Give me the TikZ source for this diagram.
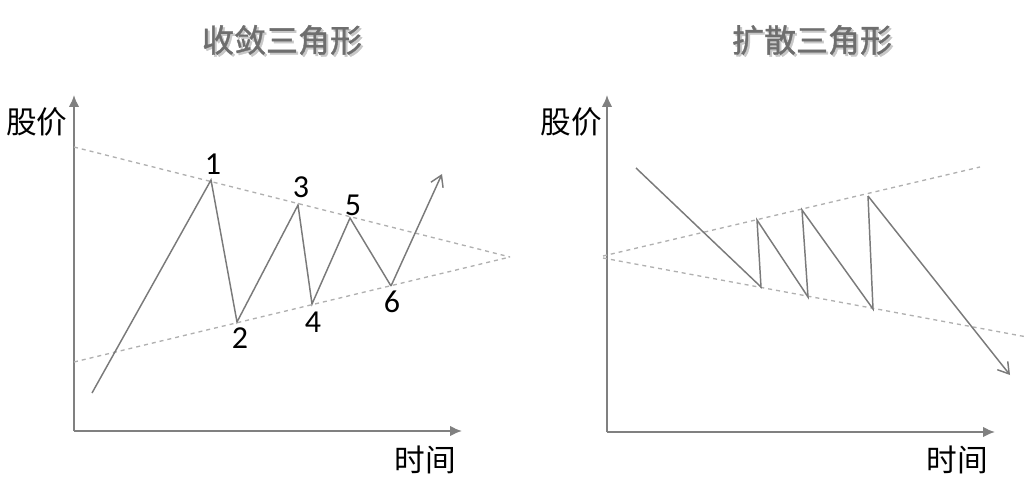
\documentclass[tikz,border=0pt]{standalone}
\usepackage{fontspec}
\setmainfont{Carlito}
\newfontfamily\cjk{Noto Sans CJK SC}
\newfontfamily\cjkb[FakeBold=1.2]{Noto Sans CJK SC}
\usetikzlibrary{arrows.meta}
\definecolor{ln}{HTML}{7A7A7A}
\definecolor{ax}{HTML}{808080}
\definecolor{dsh}{HTML}{B0B0B0}
\definecolor{ttl}{HTML}{6E6E6E}
\definecolor{shd}{HTML}{C8C8C8}
\begin{document}
\begin{tikzpicture}[x=0.75pt,y=-0.75pt,
  axis/.style={draw=ax,line width=1.5pt,-{Latex[length=9pt,width=8pt]}},
  trend/.style={draw=dsh,line width=1pt,dash pattern=on 3pt off 3pt},
  price/.style={draw=ln,line width=1.1pt,line join=miter},
  pricearrow/.style={price,-{Straight Barb[length=8pt,width=10pt,line width=1.1pt]}},
  lbl/.style={font=\cjk\fontsize{23}{25}\selectfont,text=black,inner sep=0pt},
  num/.style={font=\fontsize{24}{26}\selectfont,text=black,inner sep=0pt},
  title/.style={font=\cjkb\fontsize{24}{26}\selectfont,text=ttl,inner sep=0pt},
  titleshadow/.style={title,text=shd}]
\useasboundingbox (0,0) rectangle (1030,481);
% ---------- titles
\node[titleshadow] (t1s) at (284,42) {收敛三角形};
\node[title] (t1) at (282,40) {收敛三角形};
\node[titleshadow] (t2s) at (814,42) {扩散三角形};
\node[title] (t2) at (812,40) {扩散三角形};
% ---------- left panel
\coordinate (lo) at (74,431);
\coordinate (ly) at (74,95);
\coordinate (lx) at (462,431);
\draw[axis] (lo) -- (ly);
\draw[axis] (lo) -- (lx);
\node[lbl] (lp) at (37,122) {股价};
\node[lbl] (lt) at (425,460) {时间};
\coordinate (u0) at (74,147);
\coordinate (apex) at (510,257);
\coordinate (d0) at (74,362);
\draw[trend] (u0) -- (apex);
\draw[trend] (d0) -- (apex);
\coordinate (s0) at (92,393);
\coordinate (p1) at (211,180);
\coordinate (p2) at (237,322);
\coordinate (p3) at (298,205);
\coordinate (p4) at (312,304);
\coordinate (p5) at (350,218);
\coordinate (p6) at (391,286);
\coordinate (pe) at (442,174);
\draw[price] (s0) -- (p1) -- (p2) -- (p3) -- (p4) -- (p5) -- (p6);
\draw[pricearrow] (p6) -- (pe);
\node[num] (n1) at (213,164) {1};
\node[num] (n2) at (240,338) {2};
\node[num] (n3) at (301,187) {3};
\node[num] (n4) at (313,322) {4};
\node[num] (n5) at (353,205) {5};
\node[num] (n6) at (392,302) {6};
% ---------- right panel
\coordinate (ro) at (607,432);
\coordinate (ry) at (607,95);
\coordinate (rx) at (995,432);
\draw[axis] (ro) -- (ry);
\draw[axis] (ro) -- (rx);
\node[lbl] (rp) at (571,122) {股价};
\node[lbl] (rt) at (957,460) {时间};
\coordinate (ru0) at (603,256);
\coordinate (ru1) at (980,167);
\coordinate (rd0) at (603,258);
\coordinate (rd1) at (1027,337);
\draw[trend] (ru0) -- (ru1);
\draw[trend] (rd0) -- (rd1);
\coordinate (q0) at (636,168);
\coordinate (q1) at (761,287);
\coordinate (q2) at (757,220);
\coordinate (q3) at (808,297);
\coordinate (q4) at (802,210);
\coordinate (q5) at (873,309);
\coordinate (q6) at (868,196);
\coordinate (qe) at (1010,375);
\draw[price] (q0) -- (q1) -- (q2) -- (q3) -- (q4) -- (q5) -- (q6);
\draw[pricearrow] (q6) -- (qe);
\end{tikzpicture}
\end{document}
